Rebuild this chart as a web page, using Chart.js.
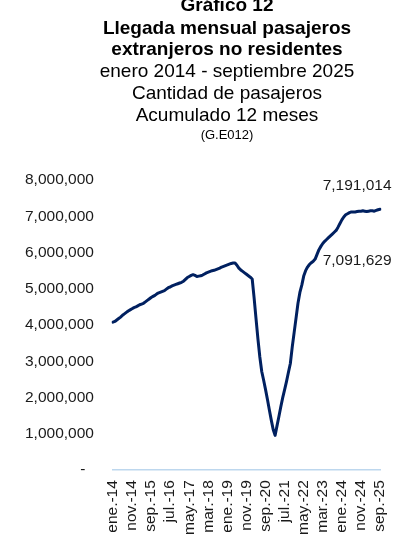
<!DOCTYPE html>
<html>
<head>
<meta charset="utf-8">
<title>G.E012</title>
<script src="https://cdn.jsdelivr.net/npm/chart.js@4.4.1/dist/chart.umd.min.js"></script>
<style>
  html, body { margin: 0; padding: 0; background: #fff; }
</style>
</head>
<body>
<canvas id="g_e012" width="414" height="550"></canvas>
<script>
// meses y años del periodo ene.-14 a sep.-25
const meses = ['ene.', 'feb.', 'mar.', 'abr.', 'may.', 'jun.', 'jul.', 'ago.', 'sep.', 'oct.', 'nov.', 'dic.'];
const anios = ['14', '15', '16', '17', '18', '19', '20', '21', '22', '23', '24', '25'];

// etiquetas visibles del eje x
const etiquetasEje = ['ene.-14', 'nov.-14', 'sep.-15', 'jul.-16', 'may.-17', 'mar.-18', 'ene.-19', 'nov.-19',
                      'sep.-20', 'jul.-21', 'may.-22', 'mar.-23', 'ene.-24', 'nov.-24', 'sep.-25'];

// pasajeros, acumulado 12 meses
const pasajeros = [
  4080000, 4100000, 4140000, 4180000, 4220000, 4270000, 4310000, 4350000, 4390000, 4420000,
  4450000, 4480000, 4500000, 4530000, 4560000, 4580000, 4600000, 4640000, 4680000, 4720000,
  4760000, 4790000, 4820000, 4860000, 4890000, 4910000, 4930000, 4950000, 4990000, 5030000,
  5050000, 5080000, 5100000, 5120000, 5140000, 5160000, 5180000, 5210000, 5260000, 5310000,
  5340000, 5370000, 5390000, 5370000, 5340000, 5350000, 5360000, 5380000, 5410000, 5440000,
  5460000, 5480000, 5500000, 5510000, 5530000, 5550000, 5570000, 5600000, 5620000, 5640000,
  5660000, 5680000, 5700000, 5710000, 5710000, 5650000, 5570000, 5520000, 5480000, 5440000,
  5400000, 5360000, 5320000, 5270000, 4750000, 4180000, 3620000, 3120000, 2720000, 2480000,
  2220000, 1950000, 1660000, 1380000, 1120000, 960000, 1220000, 1480000, 1750000, 2000000,
  2220000, 2450000, 2700000, 2940000, 3400000, 3800000, 4200000, 4600000, 4900000, 5100000,
  5350000, 5500000, 5600000, 5670000, 5720000, 5760000, 5820000, 5950000, 6080000, 6170000,
  6250000, 6310000, 6360000, 6410000, 6460000, 6510000, 6560000, 6610000, 6700000, 6800000,
  6900000, 6980000, 7040000, 7070000, 7100000, 7120000, 7120000, 7120000, 7130000, 7140000,
  7140000, 7150000, 7140000, 7130000, 7140000, 7150000, 7150000, 7140000, 7160000, 7180000,
  7191014
];

// rotulos de datos
const rotulos = ['7,191,014', '7,091,629'];

const titulo = ['Gráfico 12', 'Llegada mensual pasajeros', 'extranjeros no residentes'];
const subtitulo = ['enero 2014 - septiembre 2025', 'Cantidad de pasajeros', 'Acumulado 12 meses'];
const codigo = '(G.E012)';

var categorias = [];
anios.forEach(function (a) {
    meses.forEach(function (m) { categorias.push(m + '-' + a); });
});
categorias = categorias.slice(0, pasajeros.length);

const fuente = "'Liberation Sans', Arial, sans-serif";

// titulo dibujado sobre el canvas
const tituloPlugin = {
    id: 'tituloPlugin',
    afterDraw: function (chart) {
        var ctx = chart.ctx;
        var cx = 227;
        ctx.save();
        ctx.fillStyle = '#000';
        ctx.textAlign = 'center';
        ctx.textBaseline = 'middle';
        ctx.font = 'bold 19px ' + fuente;
        ctx.fillText(titulo[0], cx, 6);
        ctx.fillText(titulo[1], cx, 29);
        ctx.fillText(titulo[2], cx, 50);
        ctx.font = '19px ' + fuente;
        ctx.fillText(subtitulo[0], cx, 72);
        ctx.fillText(subtitulo[1], cx, 94);
        ctx.fillText(subtitulo[2], cx, 116);
        ctx.font = '13px ' + fuente;
        ctx.fillText(codigo, cx, 135);
        ctx.restore();
    }
};

// rotulos de valores (ubicados en la escala)
const rotulosPlugin = {
    id: 'rotulosPlugin',
    afterDatasetsDraw: function (chart) {
        var ctx = chart.ctx;
        var xs = chart.scales.x, ys = chart.scales.y;
        var pos = [[128, 7850000], [128, 5780000]];
        ctx.save();
        ctx.fillStyle = '#1a1a1a';
        ctx.font = '15.5px ' + fuente;
        ctx.textAlign = 'center';
        ctx.textBaseline = 'middle';
        rotulos.forEach(function (r, i) {
            ctx.fillText(r, xs.getPixelForValue(pos[i][0]), ys.getPixelForValue(pos[i][1]));
        });
        ctx.restore();
    }
};

var ctx = document.getElementById('g_e012').getContext('2d');
var myChart = new Chart(ctx, {
    type: 'line',
    data: {
        labels: categorias,
        datasets: [{
            label: 'Pasajeros',
            data: pasajeros,
            borderColor: '#002060',
            borderWidth: 3,
            borderCapStyle: 'round',
            borderJoinStyle: 'round',
            pointRadius: 0,
            tension: 0,
            fill: false
        }]
    },
    options: {
        responsive: false,
        animation: false,
        devicePixelRatio: 1,
        layout: {
            padding: { top: 180, left: 6, right: 34, bottom: 5 }
        },
        plugins: {
            legend: { display: false },
            tooltip: { enabled: false }
        },
        scales: {
            x: {
                grid: { display: false, drawTicks: false },
                border: { display: true, color: '#BDD7EE', width: 1.5 },
                ticks: {
                    autoSkip: false,
                    maxRotation: 90,
                    minRotation: 90,
                    padding: 10,
                    color: '#1a1a1a',
                    font: { family: fuente, size: 15.5 },
                    callback: function (v, i) {
                        var l = categorias[i];
                        return etiquetasEje.indexOf(l) >= 0 ? l : '';
                    }
                }
            },
            y: {
                min: 0,
                max: 8000000,
                grid: { display: false, drawTicks: false },
                border: { display: false },
                ticks: {
                    stepSize: 1000000,
                    padding: 19,
                    color: '#1a1a1a',
                    font: { family: fuente, size: 15.5 },
                    callback: function (v) {
                        return v === 0 ? '-  ' : v.toLocaleString('en-US');
                    }
                }
            }
        }
    },
    plugins: [tituloPlugin, rotulosPlugin]
});
</script>
</body>
</html>
